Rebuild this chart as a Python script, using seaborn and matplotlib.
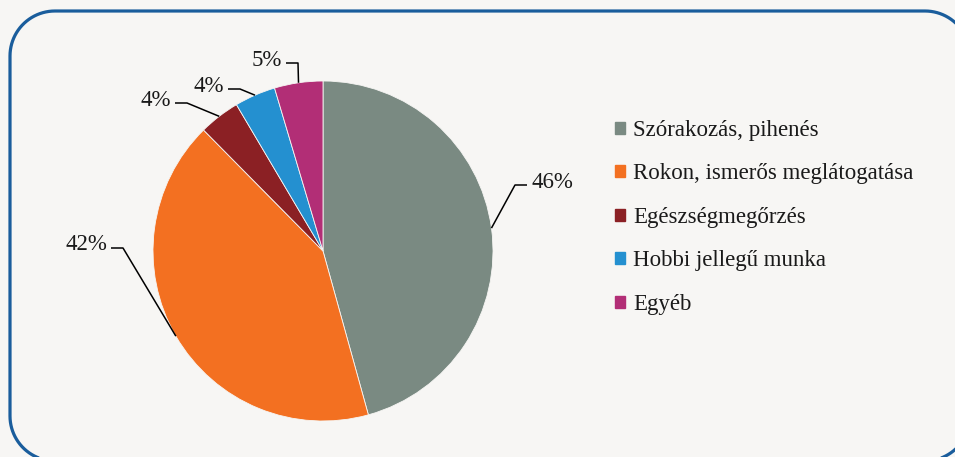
import numpy as np
import matplotlib
matplotlib.use('Agg')
import matplotlib.pyplot as plt
from matplotlib.path import Path
from matplotlib.patches import PathPatch
import seaborn as sns

# Data
categories = ['Szórakozás, pihenés', 'Rokon, ismerős meglátogatása',
              'Egészségmegőrzés', 'Hobbi jellegű munka', 'Egyéb']
shares = [45.7, 41.9, 3.9, 3.9, 4.6]
pct_labels = ['46%', '42%', '4%', '4%', '5%']
colors = ['#7a8a82', '#f37021', '#8b2024', '#2490d0', '#b22e76']

# Layout (pixels, measured from top-left)
W, H = 955, 457
bg = '#f7f6f4'
pie_center = (323, 251)
pie_radius = 170
label_pos = [(531, 182), (107, 245), (171, 100), (224, 86), (282, 60)]
label_side = ['left', 'right', 'right', 'right', 'right']
tick_len = 12
fs = 16.5

sns.set_theme(style='white')
plt.rcParams['font.family'] = ['Liberation Serif', 'DejaVu Serif']

fig = plt.figure(figsize=(W / 100, H / 100), dpi=100, facecolor=bg)
ax = fig.add_axes([0, 0, 1, 1])
ax.set_facecolor(bg)

cx, cy = pie_center[0], H - pie_center[1]
palette = sns.color_palette(colors)
wedges, _ = ax.pie(shares, colors=palette, startangle=90, counterclock=False,
                   center=(cx, cy), radius=pie_radius, frame=True,
                   wedgeprops=dict(edgecolor=bg, linewidth=0.6))
ax.set_xlim(0, W)
ax.set_ylim(0, H)
ax.axis('off')


# rounded frame (runs off the right and bottom edges)
def rounded_rect(x0, y0, x1, y1, r, n=24):
    pts = []
    for (ccx, ccy, a0) in [(x1 - r, y1 - r, 0), (x0 + r, y1 - r, 90),
                           (x0 + r, y0 + r, 180), (x1 - r, y0 + r, 270)]:
        for a in np.linspace(a0, a0 + 90, n):
            t = np.deg2rad(a)
            pts.append((ccx + r * np.cos(t), ccy + r * np.sin(t)))
    pts.append(pts[0])
    return Path(pts)


frame = PathPatch(rounded_rect(10, -4, 970, 446, 45), facecolor='none',
                  edgecolor='#1a5d9c', linewidth=2.3, clip_on=False)
ax.add_patch(frame)

# percentage labels with leader lines
for w, lab, pos, side in zip(wedges, pct_labels, label_pos, label_side):
    mid = np.deg2rad((w.theta1 + w.theta2) / 2)
    ex = cx + pie_radius * np.cos(mid)
    ey = cy + pie_radius * np.sin(mid)
    tx, ty = pos[0], H - pos[1]
    ly = ty - 3
    if side == 'left':
        x0 = tx - 4
        x1 = x0 - tick_len
    else:
        x0 = tx + 4
        x1 = x0 + tick_len
    ax.plot([x0, x1, ex], [ly, ly, ey], color='black', linewidth=1.1, solid_capstyle='butt')
    ax.text(tx, ty, lab, ha=side, va='center', fontsize=fs, color='#1a1a1a')

# legend
handles = [plt.Rectangle((0, 0), 1, 1, color=c) for c in palette]
leg = fig.legend(handles, categories, loc='upper left', bbox_to_anchor=(615 / W, 1 - 120 / H),
                 frameon=False, fontsize=fs, handlelength=0.45, handleheight=0.45,
                 handletextpad=0.35, labelspacing=0.98, borderaxespad=0, borderpad=0)
for t in leg.get_texts():
    t.set_color('#1a1a1a')

fig.savefig('out.png', dpi=100, facecolor=bg)
